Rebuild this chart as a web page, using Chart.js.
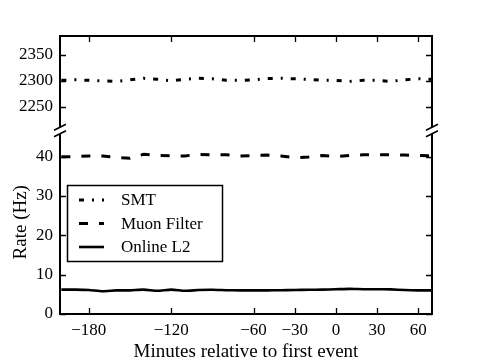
<!DOCTYPE html>
<html>
<head>
<meta charset="utf-8">
<script src="https://cdn.jsdelivr.net/npm/chart.js@4/dist/chart.umd.min.js"></script>
<style>
html,body{margin:0;padding:0;background:#fff;}
canvas{display:block;}
</style>
</head>
<body>
<canvas id="c" width="480" height="360"></canvas>
<script>
// ---- data ----
const minutes = [-200,-190,-180,-170,-160,-150,-140,-130,-120,-110,-100,-90,-80,-70,-60,-50,-40,-30,-20,-10,0,10,20,30,40,50,60,70];
const smtRate = [2301,2302,2301,2300,2299,2302,2305,2303,2300,2303,2305,2304,2301,2301,2302,2304.5,2305,2304,2303,2301,2301,2299,2301,2301,2299,2302,2304,2303];
const muonRate = [40.0,40.0,40.2,40.2,39.8,39.6,40.6,40.3,40.2,40.2,40.6,40.5,40.5,40.2,40.3,40.4,40.2,39.7,39.9,40.3,40.0,40.3,40.5,40.5,40.5,40.4,40.3,40.2];
const l2Rate = [6.2,6.2,6.1,5.8,6.0,6.0,6.2,5.9,6.2,5.9,6.1,6.15,6.05,6.0,6.0,6.0,6.05,6.1,6.15,6.2,6.3,6.4,6.3,6.3,6.25,6.1,6.0,6.0];
const seriesNames = ['SMT','Muon Filter','Online L2'];
const xTicks = [-180,-120,-60,-30,0,30,60];
const yTopTicks = [2250,2300,2350];
const yBotTicks = [0,10,20,30,40];
const xTitle = 'Minutes relative to first event';
const yTitle = 'Rate (Hz)';

const FONT = 'Liberation Serif';
Chart.defaults.font.family = FONT;
Chart.defaults.font.size = 17;
Chart.defaults.color = '#000';

const toPts = arr => minutes.map((m, i) => ({x: m, y: arr[i]}));
const fmt = v => String(v).replace('-', '\u2212');

const framePlugin = {
  id: 'frame',
  afterDatasetsDraw(chart) {
    const {ctx, chartArea: ca, scales} = chart;
    const x = scales.x, yT = scales.yTop, yB = scales.yBot;
    const b = (yT.top < yB.top) ? yT.bottom : yB.bottom;
    const g = 3.2;
    ctx.save();
    ctx.strokeStyle = '#000';
    ctx.lineWidth = 2;
    ctx.lineCap = 'butt';
    ctx.beginPath();
    ctx.moveTo(ca.left, b - g); ctx.lineTo(ca.left, ca.top); ctx.lineTo(ca.right, ca.top); ctx.lineTo(ca.right, b - g);
    ctx.moveTo(ca.left, b + g); ctx.lineTo(ca.left, ca.bottom); ctx.lineTo(ca.right, ca.bottom); ctx.lineTo(ca.right, b + g);
    ctx.stroke();
    // inward ticks
    const L = 6;
    ctx.lineWidth = 1.3;
    ctx.beginPath();
    x.ticks.forEach(t => {
      const px = Math.round(x.getPixelForValue(t.value)) + 0.5;
      ctx.moveTo(px, ca.bottom); ctx.lineTo(px, ca.bottom - L);
      ctx.moveTo(px, ca.top); ctx.lineTo(px, ca.top + L);
    });
    [yT, yB].forEach(s => s.ticks.forEach(t => {
      const py = Math.round(s.getPixelForValue(t.value)) + 0.5;
      ctx.moveTo(ca.left, py); ctx.lineTo(ca.left + L, py);
      ctx.moveTo(ca.right, py); ctx.lineTo(ca.right - L, py);
    }));
    ctx.stroke();
    // break marks
    ctx.lineWidth = 1.6;
    ctx.beginPath();
    [ca.left, ca.right].forEach(sx => {
      [b - g, b + g].forEach(sy => {
        ctx.moveTo(sx - 6, sy + 3); ctx.lineTo(sx + 6, sy - 3);
      });
    });
    ctx.stroke();
    ctx.restore();
  }
};

const legendPlugin = {
  id: 'boxLegend',
  afterDraw(chart) {
    const {ctx} = chart;
    const bx = 67.5, by = 185.5, bw = 155, bh = 76;
    ctx.save();
    ctx.fillStyle = '#fff';
    ctx.fillRect(bx, by, bw, bh);
    ctx.strokeStyle = '#000';
    ctx.lineWidth = 1.5;
    ctx.strokeRect(bx, by, bw, bh);
    const rows = [200, 223.5, 247];
    chart.data.datasets.forEach((ds, i) => {
      const y = rows[i];
      ctx.beginPath();
      ctx.setLineDash(ds.borderDash || []);
      ctx.lineWidth = ds.borderWidth;
      ctx.strokeStyle = ds.borderColor;
      ctx.moveTo(79, y); ctx.lineTo(104, y);
      ctx.stroke();
      ctx.setLineDash([]);
      ctx.fillStyle = '#000';
      ctx.font = '17px "' + FONT + '"';
      ctx.textAlign = 'left';
      ctx.textBaseline = 'middle';
      ctx.fillText(ds.label, 121, y + 1);
    });
    ctx.restore();
  }
};

const fixW = w => s => { s.width = w; };

new Chart(document.getElementById('c'), {
  type: 'line',
  data: {
    datasets: [
      {label: seriesNames[0], data: toPts(smtRate), yAxisID: 'yTop', borderColor: '#000', borderWidth: 3, borderDash: [5, 8, 2, 8], pointRadius: 0, fill: false, tension: 0},
      {label: seriesNames[1], data: toPts(muonRate), yAxisID: 'yBot', borderColor: '#000', borderWidth: 3, borderDash: [9, 11], pointRadius: 0, fill: false, tension: 0},
      {label: seriesNames[2], data: toPts(l2Rate), yAxisID: 'yBot', borderColor: '#000', borderWidth: 2.6, pointRadius: 0, fill: false, tension: 0.2}
    ]
  },
  options: {
    responsive: false,
    animation: false,
    layout: {padding: {top: 36, right: 48, left: 0, bottom: 0}},
    plugins: {legend: {display: false}, tooltip: {enabled: false}},
    scales: {
      x: {
        type: 'linear', min: -201, max: 70,
        grid: {display: false, drawTicks: false},
        border: {display: false},
        afterBuildTicks: s => { s.ticks = xTicks.map(v => ({value: v})); },
        afterFit: s => { s.height = 46; },
        ticks: {padding: 6, maxRotation: 0, autoSkip: false, callback: v => fmt(v)},
        title: {display: true, text: xTitle, font: {size: 19, lineHeight: 0.85}, padding: {top: 0, bottom: 0}}
      },
      yBot: {
        type: 'linear', position: 'left', stack: 'rate', stackWeight: 183.5,
        min: 0, max: 46.66,
        grid: {display: false, drawTicks: false},
        border: {display: false},
        afterBuildTicks: s => { s.ticks = yBotTicks.map(v => ({value: v})); },
        afterFit: fixW(60),
        ticks: {padding: 7, autoSkip: false, callback: v => fmt(v)},
        title: {display: true, text: yTitle, font: {size: 19}, padding: {top: 10, bottom: 0}}
      },
      yTop: {
        type: 'linear', position: 'left', stack: 'rate', stackWeight: 94.5,
        min: 2204, max: 2386.75,
        grid: {display: false, drawTicks: false},
        border: {display: false},
        afterBuildTicks: s => { s.ticks = yTopTicks.map(v => ({value: v})); },
        afterFit: fixW(60),
        ticks: {padding: 7, autoSkip: false, callback: v => fmt(v)}
      }
    }
  },
  plugins: [framePlugin, legendPlugin]
});
</script>
</body>
</html>
